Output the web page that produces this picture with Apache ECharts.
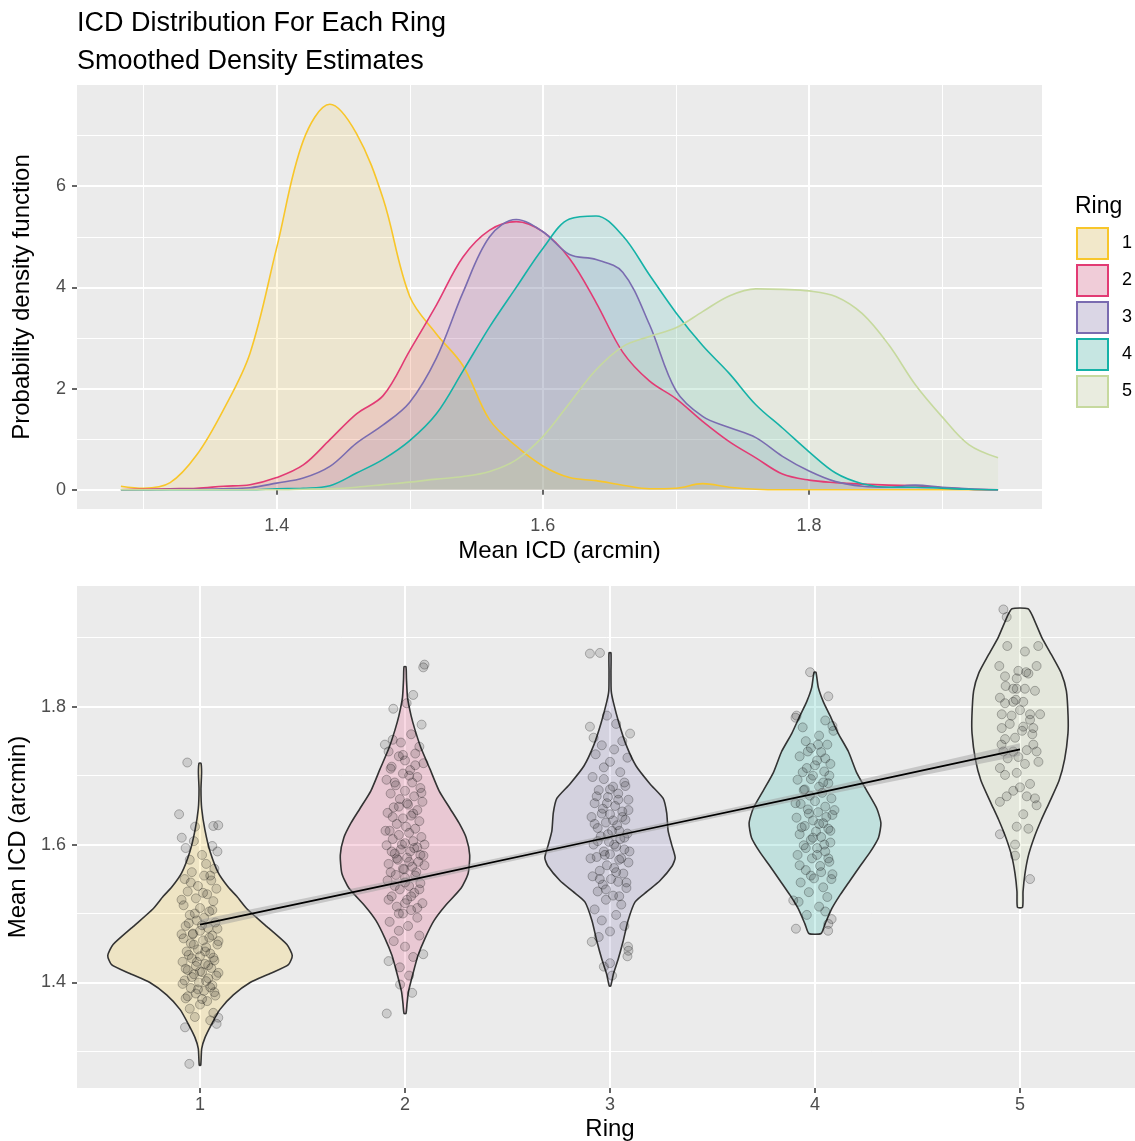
<!DOCTYPE html>
<html>
<head>
<meta charset="utf-8">
<script src="https://cdn.jsdelivr.net/npm/echarts@6/dist/echarts.min.js"></script>
<style>
  html, body { margin: 0; padding: 0; background: #fff; }
  #chart { width: 1135px; height: 1141px; }
</style>
</head>
<body>
<div id="chart"></div>
<script>
// ---- data ----
const ringNames = ['1', '2', '3', '4', '5']
const ringTicks = [1, 2, 3, 4, 5]

// x grid of the density curves (Mean ICD, arcmin)
const icdGrid = [1.283, 1.30, 1.32, 1.34, 1.36, 1.38, 1.40, 1.42, 1.44, 1.46, 1.48, 1.50,
  1.52, 1.54, 1.56, 1.58, 1.60, 1.62, 1.64, 1.66, 1.68, 1.70, 1.72, 1.74, 1.76, 1.78,
  1.80, 1.82, 1.84, 1.86, 1.88, 1.90, 1.92, 1.942]

const ring1Density = [0.07, 0.03, 0.14, 0.69, 1.58, 2.7, 4.78, 6.9, 7.62, 7.04, 5.75, 3.82,
  3.08, 2.45, 1.38, 0.86, 0.47, 0.24, 0.18, 0.09, 0.02, 0.03, 0.12, 0.05, 0.01, 0, 0, 0, 0, 0, 0, 0, 0, 0]
const ring2Density = [0, 0.01, 0.02, 0.03, 0.07, 0.1, 0.24, 0.49, 0.99, 1.5, 1.86, 2.75,
  3.65, 4.6, 5.13, 5.3, 5.1, 4.57, 3.7, 2.72, 2.15, 1.8, 1.35, 0.95, 0.63, 0.31, 0.19, 0.14,
  0.11, 0.09, 0.08, 0.04, 0.01, 0]
const ring3Density = [0, 0, 0.01, 0.01, 0.02, 0.04, 0.13, 0.23, 0.46, 0.92, 1.28, 1.73,
  2.6, 3.9, 5.0, 5.34, 5.1, 4.65, 4.55, 4.3, 3.27, 1.96, 1.45, 1.23, 1.03, 0.66, 0.37, 0.16,
  0.07, 0.05, 0.09, 0.05, 0.02, 0]
const ring4Density = [0, 0, 0, 0, 0, 0, 0.02, 0.03, 0.08, 0.33, 0.6, 0.97, 1.5, 2.35,
  3.22, 4.0, 4.77, 5.35, 5.41, 5.02, 4.25, 3.5, 2.85, 2.3, 1.68, 1.22, 0.75, 0.33, 0.12,
  0.05, 0.05, 0.03, 0.01, 0]
const ring5Density = [0, 0, 0, 0, 0, 0, 0, 0.01, 0.02, 0.05, 0.1, 0.15, 0.21, 0.26, 0.36,
  0.59, 1.05, 1.71, 2.37, 2.83, 3.03, 3.2, 3.52, 3.83, 3.97, 3.96, 3.93, 3.82, 3.48, 2.86,
  2.07, 1.44, 0.89, 0.63]

// violin outlines: Mean ICD levels and the density at each level (same density scale)
const violin1Levels = [1.28, 1.304, 1.32, 1.34, 1.361, 1.382, 1.40, 1.413, 1.426, 1.439, 1.455,
  1.481, 1.507, 1.525, 1.538, 1.559, 1.59, 1.621, 1.652, 1.68, 1.705, 1.718]
const violin1Density = [0.06, 0.14, 0.41, 0.97, 1.65, 2.75, 4.13, 5.78, 7.29, 7.6, 7.16,
  5.51, 3.86, 3.03, 2.34, 1.51, 0.83, 0.41, 0.14, 0.08, 0.13, 0.08]
const violin2Levels = [1.355, 1.37, 1.387, 1.413, 1.439, 1.464, 1.49, 1.511, 1.537, 1.558, 1.585,
  1.61, 1.631, 1.652, 1.678, 1.709, 1.74, 1.766, 1.787, 1.813, 1.84, 1.858]
const violin2Density = [0.08, 0.17, 0.29, 0.66, 1.07, 1.65, 2.4, 3.3, 4.63, 5.2, 5.33,
  5.04, 4.46, 3.72, 2.81, 2.07, 1.32, 0.83, 0.5, 0.21, 0.12, 0.08]
const violin3Levels = [1.395, 1.413, 1.433, 1.459, 1.49, 1.517, 1.532, 1.548, 1.569, 1.581, 1.60,
  1.62, 1.646, 1.667, 1.688, 1.714, 1.745, 1.776, 1.807, 1.823, 1.85, 1.878]
const violin3Density = [0.06, 0.29, 0.66, 1.07, 1.49, 2.07, 3.06, 4.13, 5.12, 5.37, 5.08,
  4.79, 4.67, 4.38, 3.3, 2.15, 1.32, 0.74, 0.27, 0.1, 0.08, 0.08]
const violin4Levels = [1.471, 1.485, 1.507, 1.527, 1.548, 1.569, 1.589, 1.61, 1.631, 1.652, 1.678,
  1.704, 1.735, 1.761, 1.787, 1.807, 1.828, 1.85]
const violin4Density = [0.5, 0.83, 1.38, 2.07, 2.89, 3.72, 4.54, 5.23, 5.43, 5.1, 4.27,
  3.44, 2.75, 1.92, 1.24, 0.69, 0.27, 0.08]
const violin5Levels = [1.509, 1.532, 1.558, 1.584, 1.61, 1.636, 1.662, 1.693, 1.724, 1.761, 1.787,
  1.823, 1.849, 1.875, 1.901, 1.93, 1.942]
const violin5Density = [0.21, 0.25, 0.41, 0.69, 1.16, 1.76, 2.44, 3.22, 3.68, 3.95, 3.96,
  3.82, 3.39, 2.6, 1.78, 1.07, 0.66]

// jittered observations: [offset from ring centre, Mean ICD]
const ring1Points = [[-0.062, 1.719], [-0.102, 1.644], [-0.024, 1.626], [0.065, 1.627], [0.089, 1.628],
  [-0.089, 1.61], [-0.03, 1.605], [0.06, 1.598], [0.085, 1.59], [-0.07, 1.595], [0.01, 1.585],
  [-0.05, 1.578], [0.03, 1.572], [0.07, 1.565], [-0.04, 1.56], [0.02, 1.555], [-0.075, 1.55],
  [0.055, 1.548], [-0.01, 1.54], [0.08, 1.536], [-0.06, 1.532], [0.035, 1.528], [-0.02, 1.522],
  [0.065, 1.518], [-0.08, 1.512], [0.0, 1.508], [0.045, 1.503], [-0.05, 1.498], [0.02, 1.494],
  [-0.015, 1.49], [0.075, 1.487], [-0.07, 1.482], [0.04, 1.479], [0.0, 1.475], [-0.035, 1.471],
  [0.06, 1.468], [-0.08, 1.464], [0.015, 1.461], [-0.045, 1.457], [0.085, 1.455], [0.03, 1.451],
  [-0.01, 1.448], [-0.065, 1.445], [0.05, 1.442], [0.0, 1.438], [-0.04, 1.435], [0.07, 1.432],
  [-0.085, 1.43], [0.025, 1.427], [-0.02, 1.424], [0.055, 1.421], [-0.06, 1.418], [0.01, 1.415],
  [-0.03, 1.412], [0.08, 1.41], [0.04, 1.406], [-0.075, 1.403], [-0.005, 1.4], [0.06, 1.396],
  [-0.045, 1.392], [0.02, 1.388], [-0.02, 1.384], [0.075, 1.381], [-0.07, 1.377], [0.035, 1.373],
  [0.0, 1.368], [-0.05, 1.362], [0.065, 1.356], [-0.025, 1.35], [0.05, 1.345], [-0.073, 1.335],
  [0.081, 1.34], [0.089, 1.349], [-0.052, 1.282],
  [-0.09, 1.47], [0.09, 1.46], [-0.03, 1.455], [0.025, 1.445], [-0.055, 1.44], [0.065, 1.436],
  [-0.015, 1.43], [0.04, 1.425], [-0.07, 1.42], [0.0, 1.416], [0.09, 1.414], [-0.04, 1.408],
  [0.03, 1.402], [-0.085, 1.398], [0.05, 1.393], [-0.01, 1.39], [0.07, 1.386], [-0.06, 1.38],
  [0.01, 1.376], [-0.035, 1.47], [0.045, 1.465], [-0.055, 1.486], [0.01, 1.483], [0.085, 1.478],
  [-0.025, 1.5], [0.06, 1.505], [-0.09, 1.52], [0.015, 1.53], [-0.045, 1.545], [0.05, 1.555]]
const ring2Points = [[0.089, 1.857], [0.095, 1.861], [0.04, 1.817], [-0.057, 1.797], [0.008, 1.805],
  [0.081, 1.774], [-0.098, 1.745], [-0.06, 1.752], [0.03, 1.76], [-0.02, 1.748], [0.07, 1.742],
  [-0.08, 1.735], [0.05, 1.732], [-0.03, 1.728], [0.0, 1.722], [0.09, 1.718], [-0.065, 1.713],
  [0.025, 1.708], [-0.01, 1.703], [0.06, 1.698], [-0.09, 1.694], [0.035, 1.69], [-0.045, 1.686],
  [0.075, 1.682], [0.0, 1.678], [-0.07, 1.674], [0.045, 1.67], [-0.025, 1.666], [0.085, 1.662],
  [0.015, 1.658], [-0.055, 1.654], [0.06, 1.65], [-0.085, 1.646], [0.03, 1.642], [-0.01, 1.638],
  [0.07, 1.634], [-0.04, 1.63], [0.005, 1.626], [0.05, 1.623], [-0.075, 1.62], [0.02, 1.617],
  [-0.03, 1.614], [0.08, 1.611], [-0.06, 1.608], [0.04, 1.605], [0.0, 1.602], [-0.09, 1.599],
  [0.06, 1.596], [-0.02, 1.593], [0.025, 1.59], [-0.05, 1.587], [0.09, 1.584], [0.01, 1.581],
  [-0.035, 1.578], [0.065, 1.575], [-0.08, 1.572], [0.035, 1.568], [-0.005, 1.564], [0.055, 1.56],
  [-0.045, 1.556], [0.0, 1.552], [-0.085, 1.548], [0.075, 1.544], [0.02, 1.54], [-0.025, 1.535],
  [0.045, 1.53], [-0.065, 1.525], [0.01, 1.52], [0.085, 1.515], [-0.04, 1.51], [0.03, 1.505],
  [-0.01, 1.5], [0.06, 1.494], [-0.075, 1.488], [0.015, 1.482], [-0.03, 1.475], [0.07, 1.468],
  [-0.055, 1.46], [0.0, 1.452], [0.089, 1.441], [-0.08, 1.431], [0.04, 1.437], [-0.025, 1.422],
  [0.02, 1.41], [-0.024, 1.397], [0.035, 1.385], [-0.089, 1.355],
  [-0.095, 1.62], [0.095, 1.6], [-0.015, 1.6], [0.045, 1.595], [-0.065, 1.59], [0.075, 1.585],
  [-0.04, 1.58], [0.02, 1.575], [0.095, 1.57], [-0.01, 1.565], [-0.07, 1.56], [0.05, 1.555],
  [0.0, 1.545], [-0.05, 1.54], [0.07, 1.535], [0.03, 1.525], [-0.08, 1.52], [0.0, 1.515],
  [0.06, 1.508], [-0.03, 1.5], [-0.06, 1.64], [0.04, 1.645], [0.01, 1.66], [-0.03, 1.655],
  [0.08, 1.675], [-0.05, 1.69], [0.02, 1.7], [-0.07, 1.71], [0.05, 1.715], [-0.01, 1.73]]
const ring3Points = [[-0.098, 1.877], [-0.049, 1.878], [-0.015, 1.787], [-0.098, 1.771], [0.098, 1.761],
  [-0.08, 1.755], [0.03, 1.775], [0.06, 1.75], [-0.04, 1.744], [0.02, 1.738], [-0.07, 1.731],
  [0.085, 1.726], [0.0, 1.72], [-0.03, 1.712], [0.05, 1.705], [-0.085, 1.698], [0.07, 1.69],
  [0.015, 1.684], [-0.055, 1.679], [0.04, 1.674], [-0.01, 1.669], [0.09, 1.665], [-0.075, 1.66],
  [0.025, 1.656], [-0.035, 1.652], [0.06, 1.648], [0.0, 1.644], [-0.09, 1.64], [0.075, 1.636],
  [-0.02, 1.632], [0.035, 1.628], [-0.06, 1.624], [0.01, 1.62], [0.085, 1.616], [-0.045, 1.612],
  [0.05, 1.608], [-0.005, 1.604], [-0.08, 1.6], [0.03, 1.597], [0.07, 1.593], [-0.03, 1.59],
  [0.0, 1.586], [-0.065, 1.582], [0.045, 1.578], [0.09, 1.574], [-0.015, 1.57], [0.02, 1.566],
  [-0.05, 1.562], [0.065, 1.558], [-0.085, 1.554], [0.005, 1.55], [0.04, 1.546], [-0.035, 1.542],
  [0.08, 1.537], [-0.06, 1.532], [0.015, 1.526], [-0.02, 1.52], [0.055, 1.513], [-0.075, 1.506],
  [0.03, 1.498], [-0.04, 1.49], [0.07, 1.482], [0.0, 1.474], [-0.055, 1.466], [-0.089, 1.459],
  [0.09, 1.446], [0.088, 1.452], [0.085, 1.438], [0.0, 1.428], [-0.03, 1.423], [0.01, 1.41],
  [-0.095, 1.58], [0.095, 1.59], [-0.025, 1.585], [0.055, 1.58], [0.02, 1.6], [-0.06, 1.605],
  [0.07, 1.61], [-0.01, 1.615], [0.045, 1.62], [-0.075, 1.63], [0.015, 1.635], [0.06, 1.64],
  [-0.04, 1.645], [0.09, 1.65], [-0.015, 1.66], [0.04, 1.665], [-0.065, 1.67], [0.0, 1.68],
  [0.075, 1.685], [-0.03, 1.695], [0.03, 1.56], [-0.05, 1.55], [0.08, 1.545], [-0.02, 1.535],
  [0.045, 1.525]]
const ring4Points = [[-0.024, 1.85], [0.065, 1.815], [-0.09, 1.787], [-0.095, 1.784], [0.05, 1.78],
  [0.085, 1.772], [0.09, 1.765], [-0.06, 1.77], [0.02, 1.758], [-0.045, 1.75], [0.06, 1.745],
  [-0.02, 1.74], [0.03, 1.734], [-0.075, 1.728], [0.01, 1.722], [0.075, 1.717], [-0.04, 1.711],
  [0.045, 1.706], [-0.01, 1.7], [-0.085, 1.694], [0.065, 1.689], [0.02, 1.684], [-0.055, 1.679],
  [0.035, 1.675], [-0.025, 1.671], [0.08, 1.667], [0.0, 1.663], [-0.07, 1.659], [0.05, 1.655],
  [-0.035, 1.651], [0.015, 1.647], [0.085, 1.643], [-0.09, 1.639], [-0.01, 1.635], [0.04, 1.631],
  [-0.05, 1.627], [0.065, 1.623], [0.005, 1.619], [-0.075, 1.615], [0.03, 1.611], [-0.02, 1.607],
  [0.075, 1.603], [-0.055, 1.599], [0.01, 1.595], [0.05, 1.59], [-0.085, 1.585], [-0.015, 1.58],
  [0.07, 1.575], [0.025, 1.569], [-0.045, 1.563], [0.085, 1.557], [-0.005, 1.551], [-0.07, 1.545],
  [0.04, 1.538], [-0.03, 1.531], [0.06, 1.524], [-0.08, 1.517], [0.02, 1.51], [-0.106, 1.519],
  [0.05, 1.503], [-0.04, 1.498], [0.081, 1.492], [0.065, 1.485], [-0.093, 1.478], [0.064, 1.475],
  [-0.095, 1.66], [0.095, 1.65], [-0.03, 1.645], [0.055, 1.64], [0.02, 1.63], [-0.065, 1.625],
  [0.075, 1.62], [-0.01, 1.61], [0.045, 1.6], [-0.045, 1.595], [0.01, 1.585], [0.065, 1.58],
  [-0.075, 1.57], [0.03, 1.56], [-0.02, 1.555], [0.08, 1.55], [-0.05, 1.68], [0.04, 1.69],
  [-0.02, 1.695], [0.07, 1.7], [-0.06, 1.705], [0.0, 1.715], [0.05, 1.725], [-0.035, 1.735],
  [0.015, 1.745]]
const ring5Points = [[-0.081, 1.941], [-0.065, 1.93], [-0.062, 1.888], [0.089, 1.888], [0.024, 1.88],
  [-0.101, 1.859], [0.081, 1.859], [-0.008, 1.852], [0.041, 1.848], [-0.073, 1.844], [-0.016, 1.841],
  [-0.07, 1.83], [-0.033, 1.826], [-0.016, 1.826], [0.024, 1.826], [0.073, 1.823], [-0.098, 1.813],
  [-0.073, 1.805], [-0.033, 1.807], [0.016, 1.807], [-0.041, 1.787], [-0.089, 1.789], [0.049, 1.789],
  [0.098, 1.789], [0.049, 1.781], [-0.089, 1.769], [0.016, 1.771], [0.065, 1.769], [-0.024, 1.755],
  [-0.073, 1.753], [0.065, 1.745], [0.033, 1.737], [-0.033, 1.735], [-0.081, 1.735], [-0.008, 1.727],
  [0.081, 1.735], [0.024, 1.717], [-0.098, 1.711], [-0.073, 1.701], [-0.016, 1.704], [0.049, 1.688],
  [0.0, 1.683], [-0.033, 1.678], [0.033, 1.67], [0.073, 1.667], [-0.065, 1.67], [-0.098, 1.662],
  [0.081, 1.657], [0.016, 1.644], [-0.016, 1.626], [0.041, 1.623], [-0.098, 1.615], [-0.024, 1.6],
  [-0.024, 1.584], [0.049, 1.55], [0.0, 1.795], [-0.05, 1.775], [0.06, 1.76], [0.03, 1.85],
  [-0.02, 1.81], [0.09, 1.72], [-0.06, 1.725], [0.01, 1.765], [-0.09, 1.745]]

// linear fit of Mean ICD on ring, with its confidence band
const fitValues = [1.484, 1.547, 1.611, 1.674, 1.738]
const fitLower = [1.477, 1.542, 1.607, 1.669, 1.729]
const fitUpper = [1.491, 1.552, 1.615, 1.679, 1.747]

// tick labels
const topXTicks = [1.4, 1.6, 1.8]
const topXMinor = [1.3, 1.5, 1.7, 1.9]
const topYTicks = [0, 2, 4, 6]
const topYMinor = [1, 3, 5, 7]
const botYTicks = [1.4, 1.6, 1.8]
const botYMinor = [1.3, 1.5, 1.7, 1.9]

// ---- styling ----
const FONT = '"Liberation Sans", Arial, Helvetica, sans-serif'
const lineColors = ['#F8C62A', '#E23B74', '#7A6CB0', '#15B2A7', '#C6D99E']
const fillColors = ['rgba(248,198,42,0.2)', 'rgba(226,59,116,0.2)', 'rgba(122,108,176,0.2)',
  'rgba(21,178,167,0.2)', 'rgba(198,217,158,0.2)']
const legendFills = ['#F2E8CA', '#F0CCD8', '#DAD6E5', '#C6E6E2', '#E9ECDF']

const densities = [ring1Density, ring2Density, ring3Density, ring4Density, ring5Density]
const violinLevels = [violin1Levels, violin2Levels, violin3Levels, violin4Levels, violin5Levels]
const violinDensity = [violin1Density, violin2Density, violin3Density, violin4Density, violin5Density]
const jitterSets = [ring1Points, ring2Points, ring3Points, ring4Points, ring5Points]
// widest violin gets half of 0.9 ring units (ggplot default width, scale = "area")
const maxViolin = Math.max(...violinDensity.map(d => Math.max(...d)))

function renderViolin(params, api) {
  const i = params.dataIndex
  const ring = ringTicks[i]
  const levels = violinLevels[i]
  const dens = violinDensity[i]
  const half = d => d / maxViolin * 0.45
  const right = levels.map((v, k) => api.coord([ring + half(dens[k]), v]))
  const left = levels.map((v, k) => api.coord([ring - half(dens[k]), v])).reverse()
  return {
    type: 'polygon',
    shape: { points: right.concat(left), smooth: 0.2 },
    style: { fill: fillColors[i], stroke: '#333333', lineWidth: 1.6 },
  }
}

function renderBand(params, api) {
  const upper = ringTicks.map((r, i) => api.coord([r, fitUpper[i]]))
  const lower = ringTicks.map((r, i) => api.coord([r, fitLower[i]])).reverse()
  return {
    type: 'polygon',
    shape: { points: upper.concat(lower) },
    style: { fill: 'rgba(153,153,153,0.45)' },
  }
}

const tickLabel = { color: '#4D4D4D', fontSize: 18, fontFamily: FONT }
const tickStyle = { show: true, length: 5, lineStyle: { color: '#333333', width: 1.5 } }
const majorGrid = { show: true, lineStyle: { color: '#FFFFFF', width: 2 } }
const minorGrid = { show: true, lineStyle: { color: '#FFFFFF', width: 1 } }
const axisName = { color: '#000', fontSize: 24, fontFamily: FONT }

function mainAxis(extra) {
  return Object.assign({
    type: 'value',
    axisLine: { show: false },
    nameLocation: 'middle',
    nameTextStyle: axisName,
    splitLine: majorGrid,
  }, extra)
}
function minorAxis(extra) {
  return Object.assign({
    type: 'value',
    axisLine: { show: false },
    axisLabel: { show: false },
    splitLine: minorGrid,
  }, extra)
}

const chart = echarts.init(document.getElementById('chart'))

const densitySeries = ringNames.map((name, i) => ({
  name,
  type: 'line',
  xAxisIndex: 0,
  yAxisIndex: 0,
  data: icdGrid.map((v, k) => [v, densities[i][k]]),
  smooth: 0.35,
  symbol: 'none',
  lineStyle: { color: lineColors[i], width: 1.6 },
  itemStyle: { color: lineColors[i] },
  areaStyle: { color: fillColors[i] },
  silent: true,
}))

const jitterData = []
jitterSets.forEach((set, i) => {
  set.forEach(([dx, y]) => jitterData.push([ringTicks[i] + dx, y]))
})

chart.setOption({
  animation: false,
  backgroundColor: '#FFFFFF',
  title: [
    { text: 'ICD Distribution For Each Ring', left: 77, top: 10, padding: 0,
      textStyle: { fontSize: 27, fontWeight: 'normal', color: '#000', fontFamily: FONT } },
    { text: 'Smoothed Density Estimates', left: 77, top: 48, padding: 0,
      textStyle: { fontSize: 27, fontWeight: 'normal', color: '#000', fontFamily: FONT } },
    { text: 'Ring', left: 1075, top: 195, padding: 0,
      textStyle: { fontSize: 23, fontWeight: 'normal', color: '#000', fontFamily: FONT } },
  ],
  legend: {
    orient: 'vertical',
    left: 1076,
    top: 227,
    padding: 0,
    itemWidth: 31,
    itemHeight: 31,
    itemGap: 4,
    icon: 'rect',
    selectedMode: false,
    textStyle: { fontSize: 18, color: '#000', fontFamily: FONT, padding: [0, 0, 0, 9] },
    data: ringNames.map((name, i) => ({
      name,
      itemStyle: { color: legendFills[i], borderColor: lineColors[i], borderWidth: 2 },
    })),
  },
  grid: [
    { left: 77, top: 85, width: 965, height: 424, show: true, backgroundColor: '#EBEBEB',
      borderWidth: 0, outerBoundsMode: 'none' },
    { left: 77, top: 586, width: 1066, height: 502, show: true, backgroundColor: '#EBEBEB',
      borderWidth: 0, outerBoundsMode: 'none' },
  ],
  xAxis: [
    mainAxis({
      gridIndex: 0, min: 1.25, max: 1.975, position: 'bottom',
      name: 'Mean ICD (arcmin)', nameGap: 30,
      axisTick: Object.assign({ customValues: topXTicks }, tickStyle),
      axisLabel: Object.assign({ customValues: topXTicks, margin: 8,
        formatter: v => v.toFixed(1) }, tickLabel),
    }),
    minorAxis({
      gridIndex: 0, min: 1.25, max: 1.975, position: 'top',
      axisTick: { show: false, customValues: topXMinor },
    }),
    mainAxis({
      gridIndex: 1, min: 0.4, max: 5.6, position: 'bottom',
      name: 'Ring', nameGap: 29,
      axisTick: Object.assign({ customValues: ringTicks }, tickStyle),
      axisLabel: Object.assign({ customValues: ringTicks, margin: 8,
        formatter: v => String(v) }, tickLabel),
    }),
  ],
  yAxis: [
    mainAxis({
      gridIndex: 0, min: -0.381, max: 8.0, position: 'left',
      name: 'Probability density function', nameGap: 43,
      axisTick: Object.assign({ customValues: topYTicks }, tickStyle),
      axisLabel: Object.assign({ customValues: topYTicks, margin: 11,
        formatter: v => String(v) }, tickLabel),
    }),
    minorAxis({
      gridIndex: 0, min: -0.381, max: 8.0, position: 'right',
      axisTick: { show: false, customValues: topYMinor },
    }),
    mainAxis({
      gridIndex: 1, min: 1.247, max: 1.975, position: 'left',
      name: 'Mean ICD (arcmin)', nameGap: 43,
      axisTick: Object.assign({ customValues: botYTicks }, tickStyle),
      axisLabel: Object.assign({ customValues: botYTicks, margin: 11,
        formatter: v => v.toFixed(1) }, tickLabel),
    }),
    minorAxis({
      gridIndex: 1, min: 1.247, max: 1.975, position: 'right',
      axisTick: { show: false, customValues: botYMinor },
    }),
  ],
  series: [
    ...densitySeries,
    {
      name: 'violins',
      type: 'custom',
      xAxisIndex: 2,
      yAxisIndex: 2,
      data: ringTicks.map((r, i) => [r, violinLevels[i][0]]),
      encode: { x: 0, y: 1 },
      renderItem: renderViolin,
      silent: true,
      z: 2,
    },
    {
      name: 'observations',
      type: 'scatter',
      xAxisIndex: 2,
      yAxisIndex: 2,
      data: jitterData,
      symbolSize: 9,
      itemStyle: { color: 'rgba(0,0,0,0.16)', borderColor: 'rgba(0,0,0,0.32)', borderWidth: 1 },
      silent: true,
      z: 3,
    },
    {
      name: 'band',
      type: 'custom',
      xAxisIndex: 2,
      yAxisIndex: 2,
      data: [[ringTicks[0], fitValues[0]]],
      encode: { x: 0, y: 1 },
      renderItem: renderBand,
      silent: true,
      z: 4,
    },
    {
      name: 'fit',
      type: 'line',
      xAxisIndex: 2,
      yAxisIndex: 2,
      data: ringTicks.map((r, i) => [r, fitValues[i]]),
      symbol: 'none',
      lineStyle: { color: '#000000', width: 1.7 },
      silent: true,
      z: 5,
    },
  ],
})
</script>
</body>
</html>
